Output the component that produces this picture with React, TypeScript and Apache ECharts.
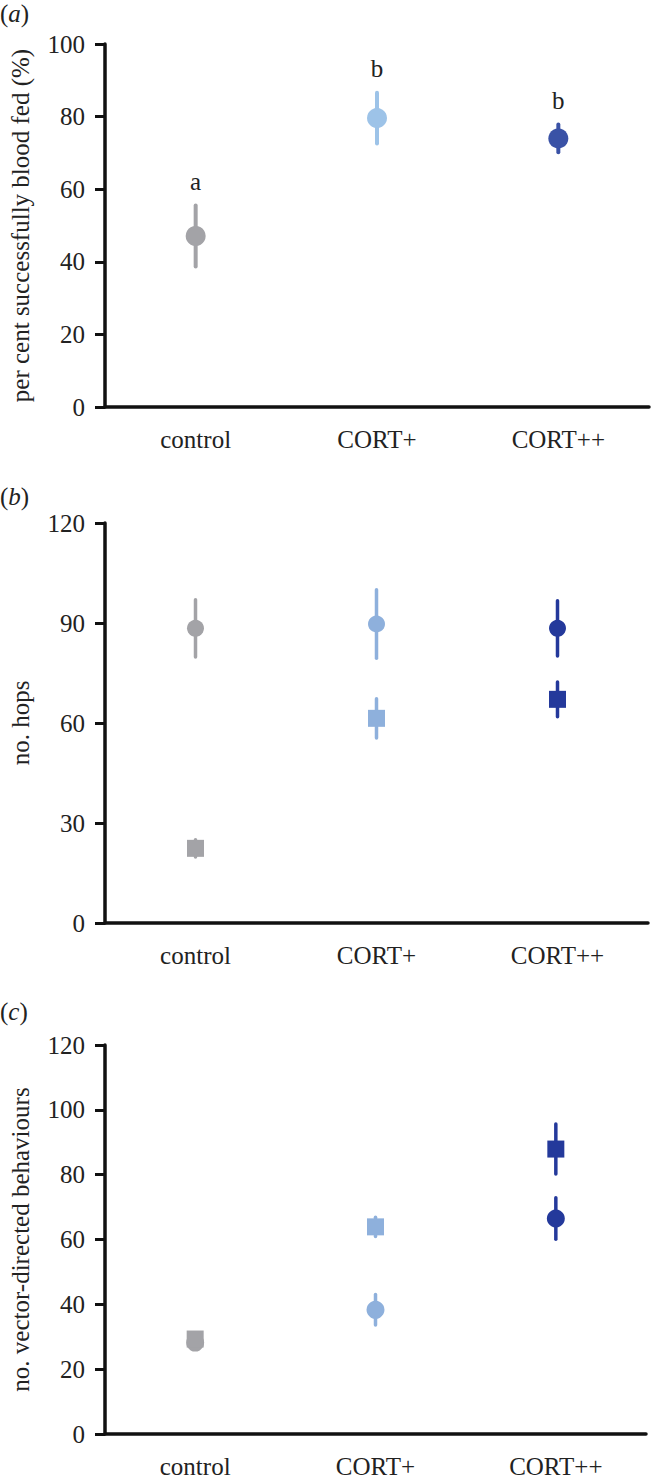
import React, { useEffect, useRef } from "react";
import * as echarts from "echarts";

const categories = ["control", "CORT+", "CORT++"];

// panel (a): per cent successfully blood fed
const fedMean = [47.1, 79.6, 74.0];
const fedErr = [8.4, 7.0, 3.8];
const fedLetters = ["a", "b", "b"];

// panel (b): no. hops
const hopsCircleMean = [88.4, 89.7, 88.4];
const hopsCircleErr = [8.6, 10.3, 8.3];
const hopsSquareMean = [22.4, 61.4, 67.1];
const hopsSquareErr = [2.6, 5.9, 5.2];

// panel (c): no. vector-directed behaviours
const vdbCircleMean = [28.2, 38.3, 66.5];
const vdbCircleErr = [1.4, 4.7, 6.4];
const vdbSquareMean = [29.3, 63.9, 87.9];
const vdbSquareErr = [1.0, 3.0, 7.7];

const yTicksA = { min: 0, max: 100, interval: 20 };
const yTicksB = { min: 0, max: 120, interval: 30 };
const yTicksC = { min: 0, max: 120, interval: 20 };

const colorsA = ["#a3a3a7", "#9dc3e8", "#3a52a6"];
const colorsBC = ["#a3a3a7", "#8eb0dc", "#24399b"];

const FONT = "Liberation Serif";
const AXIS = "#111";
const TEXT = "#222";

export default function App() {
  const ref = useRef<HTMLDivElement>(null);
  useEffect(() => {
    if (!ref.current) return;
    const chart = echarts.init(ref.current, null, { renderer: "svg" });

    const grids = [
      { left: 100, top: 44, width: 549, height: 363 },
      { left: 100, top: 523, width: 548, height: 400 },
      { left: 100, top: 1045, width: 546, height: 389 },
    ];

    const xAxes = grids.map((_, i) => ({
      type: "category",
      gridIndex: i,
      data: categories,
      boundaryGap: true,
      axisLine: { lineStyle: { color: AXIS, width: 3.5 } },
      axisTick: { alignWithLabel: true, length: 10, lineStyle: { color: AXIS, width: 3 } },
      axisLabel: { margin: 20, fontFamily: FONT, fontSize: 25, color: TEXT },
      splitLine: { show: false },
    }));

    const yNames = [
      "per cent successfully blood fed (%)",
      "no. hops",
      "no. vector-directed behaviours",
    ];
    const yT = [yTicksA, yTicksB, yTicksC];
    const yAxes = grids.map((_, i) => ({
      type: "value",
      gridIndex: i,
      min: yT[i].min,
      max: yT[i].max,
      interval: yT[i].interval,
      name: yNames[i],
      nameLocation: "middle",
      nameGap: 72,
      nameTextStyle: { fontFamily: FONT, fontSize: 25, color: TEXT },
      axisLine: { show: true, lineStyle: { color: AXIS, width: 3.5 } },
      axisTick: { show: true, length: 10, lineStyle: { color: AXIS, width: 3 } },
      axisLabel: { margin: 20, fontFamily: FONT, fontSize: 25, color: TEXT },
      splitLine: { show: false },
    }));

    const errSeries = (
      idx: number,
      means: number[],
      errs: number[],
      colors: string[],
      width: number,
      letters?: string[]
    ) => ({
      type: "custom",
      xAxisIndex: idx,
      yAxisIndex: idx,
      data: means.map((m, i) => [i, m, errs[i]]),
      renderItem: (params: any, api: any) => {
        const x = api.value(0);
        const m = api.value(1);
        const e = api.value(2);
        const top = api.coord([x, m + e]);
        const bot = api.coord([x, m - e]);
        const children: any[] = [
          {
            type: "line",
            shape: { x1: top[0], y1: top[1], x2: bot[0], y2: bot[1] },
            style: { stroke: colors[params.dataIndex], lineWidth: width, lineCap: "round" },
          },
        ];
        if (letters) {
          children.push({
            type: "text",
            x: top[0],
            y: top[1] - 24,
            style: {
              text: letters[params.dataIndex],
              fontFamily: FONT,
              fontSize: 25,
              fill: TEXT,
              align: "center",
              verticalAlign: "middle",
            },
          });
        }
        return { type: "group", children };
      },
      z: 2,
    });

    const markerSeries = (
      idx: number,
      means: number[],
      colors: string[],
      symbol: string,
      size: number,
      z: number
    ) => ({
      type: "scatter",
      xAxisIndex: idx,
      yAxisIndex: idx,
      symbol,
      symbolSize: size,
      data: means.map((m, i) => [i, m]),
      itemStyle: { color: (p: any) => colors[p.dataIndex], opacity: 1 },
      z,
    });

    const panelTitle = (letter: string, top: number) => ({
      text: "{p|(}{i|" + letter + "}{p|)}",
      left: 0,
      top,
      padding: 0,
      textStyle: {
        fontWeight: "normal",
        rich: {
          p: { fontFamily: FONT, fontSize: 25, fontWeight: "normal", color: TEXT },
          i: { fontFamily: FONT, fontSize: 25, fontWeight: "normal", fontStyle: "italic", color: TEXT },
        },
      },
    });

    chart.setOption({
      animation: false,
      backgroundColor: "#ffffff",
      title: [panelTitle("a", 1), panelTitle("b", 484), panelTitle("c", 999)],
      grid: grids,
      xAxis: xAxes,
      yAxis: yAxes,
      series: [
        errSeries(0, fedMean, fedErr, colorsA, 4, fedLetters),
        markerSeries(0, fedMean, colorsA, "circle", 20, 3),

        errSeries(1, hopsCircleMean, hopsCircleErr, colorsBC, 3.5),
        markerSeries(1, hopsCircleMean, colorsBC, "circle", 17, 3),
        errSeries(1, hopsSquareMean, hopsSquareErr, colorsBC, 3.5),
        markerSeries(1, hopsSquareMean, colorsBC, "rect", 17, 3),

        errSeries(2, vdbCircleMean, vdbCircleErr, colorsBC, 3.5),
        markerSeries(2, vdbCircleMean, colorsBC, "circle", 18, 3),
        errSeries(2, vdbSquareMean, vdbSquareErr, colorsBC, 3.5),
        markerSeries(2, vdbSquareMean, colorsBC, "rect", 17, 4),
      ],
    });

    return () => chart.dispose();
  }, []);

  return (
    <div
      ref={ref}
      style={{ position: "absolute", left: 0, top: 0, width: 655, height: 1479, background: "#fff" }}
    />
  );
}
